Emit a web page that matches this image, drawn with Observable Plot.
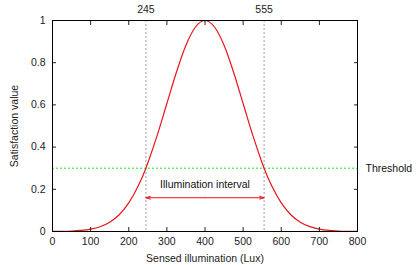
<!DOCTYPE html>
<html><head><meta charset="utf-8">
<script src="https://cdn.jsdelivr.net/npm/d3@7"></script>
<script src="https://cdn.jsdelivr.net/npm/@observablehq/plot@0.6"></script>
<style>body{margin:0;background:#fff}svg{display:block}</style>
</head><body><div id="chart"></div>
<script>
const illum = [0,25,50,75,100,125,150,175,200,225,245,250,275,300,325,350,375,400,425,450,475,500,525,550,555,575,600,625,650,675,700,725,750,775,800];
const satisfaction = [0.0003,0.0009,0.0022,0.0051,0.0111,0.0228,0.0439,0.0796,0.1353,0.2163,0.30,0.3247,0.4578,0.6065,0.7548,0.8825,0.9692,1,0.9692,0.8825,0.7548,0.6065,0.4578,0.3247,0.30,0.2163,0.1353,0.0796,0.0439,0.0228,0.0111,0.0051,0.0022,0.0009,0.0003];
const bounds = [245, 555];
const thresholdValue = [0.3];
const thresholdLabel = ["Threshold"];
const arrowLevel = 0.16;
const intervalLabel = "Illumination interval";
const intervalLabelPos = {x: 400, y: 0.22};
const xTicks = [0,100,200,300,400,500,600,700,800];
const yTicks = [0,0.2,0.4,0.6,0.8,1];

const curve = illum.map((x, i) => ({x, y: satisfaction[i]}));
const mid = (bounds[0] + bounds[1]) / 2;
const arrows = bounds.map(b => ({from: mid, to: b}));

const chart = Plot.plot({
  width: 416, height: 265,
  marginLeft: 52, marginRight: 59, marginTop: 20, marginBottom: 34,
  style: {fontFamily: "'Liberation Sans', Arial, sans-serif", fontSize: "10.5px", color: "#222", background: "#fff"},
  x: {domain: [0, 800]},
  y: {domain: [0, 1]},
  marks: [
    Plot.ruleY(thresholdValue, {y: d => d, stroke: "#22dd22", strokeDasharray: "2,2", strokeWidth: 1}),
    Plot.ruleX(bounds, {x: d => d, stroke: "#888", strokeDasharray: "2,2", strokeWidth: 0.8}),
    Plot.line(curve, {x: "x", y: "y", stroke: "#e8141a", strokeWidth: 1.2, curve: "monotone-x"}),
    Plot.arrow(arrows, {x1: "from", x2: "to", y1: arrowLevel, y2: arrowLevel, stroke: "#e8141a", strokeWidth: 1, headLength: 7, headAngle: 35}),
    Plot.text([intervalLabel], {x: intervalLabelPos.x, y: intervalLabelPos.y, text: d => d, fill: "#111", fontSize: 10.5}),
    Plot.text(thresholdLabel, {x: 800, y: thresholdValue[0], text: d => d, dx: 8, textAnchor: "start", fill: "#111", fontSize: 10.5}),
    Plot.axisX(xTicks, {anchor: "bottom", tickSize: -4, tickPadding: 10, label: "Sensed illumination (Lux)", labelAnchor: "center", labelOffset: 30, labelArrow: "none"}),
    Plot.axisX(xTicks, {anchor: "top", tickSize: -4, tickFormat: () => "", label: null}),
    Plot.axisX(bounds, {anchor: "top", tickSize: 0, tickPadding: 8, label: null}),
    Plot.axisY(yTicks, {anchor: "left", tickSize: -4, tickPadding: 11, tickFormat: d => String(d), label: "Satisfaction value", labelAnchor: "center", labelOffset: 42, labelArrow: "none"}),
    Plot.axisY(yTicks, {anchor: "right", tickSize: -4, tickFormat: () => "", label: null}),
    Plot.frame({stroke: "#000", strokeWidth: 1})
  ]
});
document.getElementById("chart").append(chart);
</script>
</body></html>
